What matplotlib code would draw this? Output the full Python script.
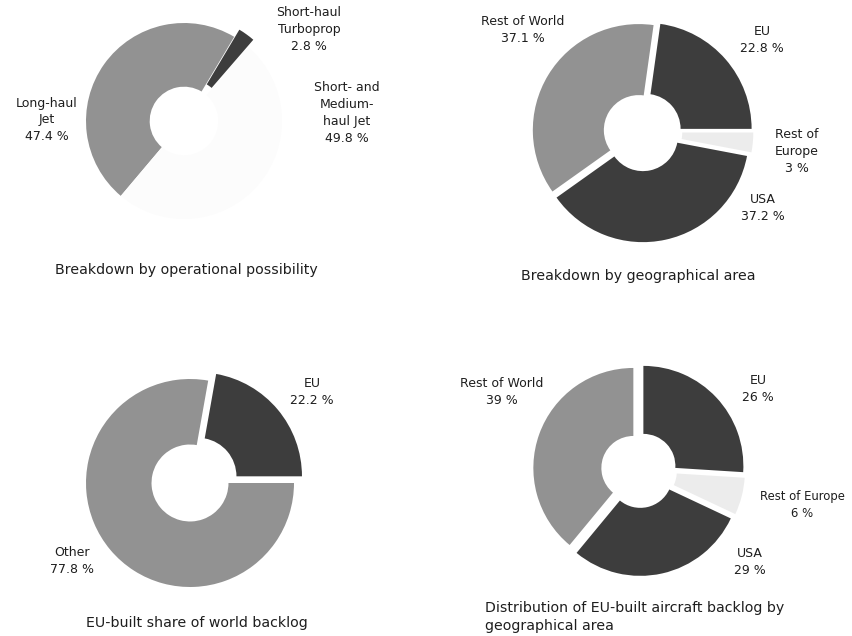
import matplotlib
matplotlib.use("Agg")
import matplotlib.pyplot as plt

W, H = 853, 636
plt.rcParams['font.family'] = ['DejaVu Sans']

# ---- data ----
ops_labels = ["Long-haul\nJet\n47.4 %", "Short- and\nMedium-\nhaul Jet\n49.8 %", "Short-haul\nTurboprop\n2.8 %"]
ops_values = [47.4, 49.8, 2.8]

geo_labels = ["EU\n22.8 %", "Rest of World\n37.1 %", "USA\n37.2 %", "Rest of\nEurope\n3 %"]
geo_values = [22.8, 37.1, 37.2, 3.0]

share_labels = ["EU\n22.2 %", "Other\n77.8 %"]
share_values = [22.2, 77.8]

dist_labels = ["EU\n26 %", "Rest of Europe\n6 %", "USA\n29 %", "Rest of World\n39 %"]
dist_values = [26, 6, 29, 39]

titles = ["Breakdown by operational possibility",
          "Breakdown by geographical area",
          "EU-built share of world backlog",
          "Distribution of EU-built aircraft backlog by\ngeographical area"]

DARK = '#3d3d3d'
MID = '#929292'
LIGHT = '#ececec'
WHITE = '#fcfcfc'
TXT = '#1e1e1e'

fig = plt.figure(figsize=(W / 100, H / 100), dpi=100)
fig.patch.set_facecolor('white')


def donut_ax(cx, cy, R, L=1.3):
    ax = fig.add_axes([(cx - L * R) / W, 1 - (cy + L * R) / H, 2 * L * R / W, 2 * L * R / H])
    return ax, L


def finish(ax, L):
    ax.set_xlim(-L, L)
    ax.set_ylim(-L, L)
    ax.axis('off')


def ftext(x, y, s, size=9.0, ha='center', va='center', ls=1.4):
    fig.text(x / W, 1 - y / H, s, ha=ha, va=va, fontsize=size, color=TXT,
             linespacing=ls, multialignment='center' if ha == 'center' else 'left')


# chart 1: operational possibility
ax, L = donut_ax(184, 121, 98)
ax.pie(ops_values, colors=[MID, WHITE, DARK], startangle=59.2, counterclock=True,
       explode=[0, 0, 0.09], wedgeprops=dict(width=0.65, linewidth=0))
finish(ax, L)

# chart 2: geographical area
ax, L = donut_ax(642, 132, 106)
ax.pie(geo_values, colors=[DARK, MID, DARK, LIGHT], startangle=0, counterclock=True,
       explode=[0.045, 0.035, 0.04, 0.05], wedgeprops=dict(width=0.67, linewidth=0))
finish(ax, L)

# chart 3: EU-built share
ax, L = donut_ax(190, 483, 104)
ax.pie(share_values, colors=[DARK, MID], startangle=0, counterclock=True,
       explode=[0.1, 0], wedgeprops=dict(width=0.63, linewidth=0))
finish(ax, L)

# chart 4: distribution of EU-built backlog
ax, L = donut_ax(639, 470, 100)
ax.pie(dist_values, colors=[DARK, LIGHT, DARK, MID], startangle=90, counterclock=False,
       explode=[0.06, 0.06, 0.06, 0.06], wedgeprops=dict(width=0.68, linewidth=0))
finish(ax, L)

# labels
ftext(47, 120, ops_labels[0])
ftext(347, 113, ops_labels[1])
ftext(309, 30, ops_labels[2])

ftext(762, 40, geo_labels[0])
ftext(523, 30, geo_labels[1])
ftext(763, 208, geo_labels[2])
ftext(797, 152, geo_labels[3])

ftext(312, 392, share_labels[0])
ftext(72, 561, share_labels[1])

ftext(758, 389, dist_labels[0])
ftext(802, 505, dist_labels[1], size=8.4)
ftext(750, 562, dist_labels[2])
ftext(502, 392, dist_labels[3])

# titles
ftext(186, 270, titles[0], size=10.2)
ftext(638, 276, titles[1], size=10.2)
ftext(197, 623, titles[2], size=10.2)
ftext(485, 617, titles[3], size=10.2, ha='left', ls=1.3)

fig.savefig("out.png", dpi=100, facecolor='white')
